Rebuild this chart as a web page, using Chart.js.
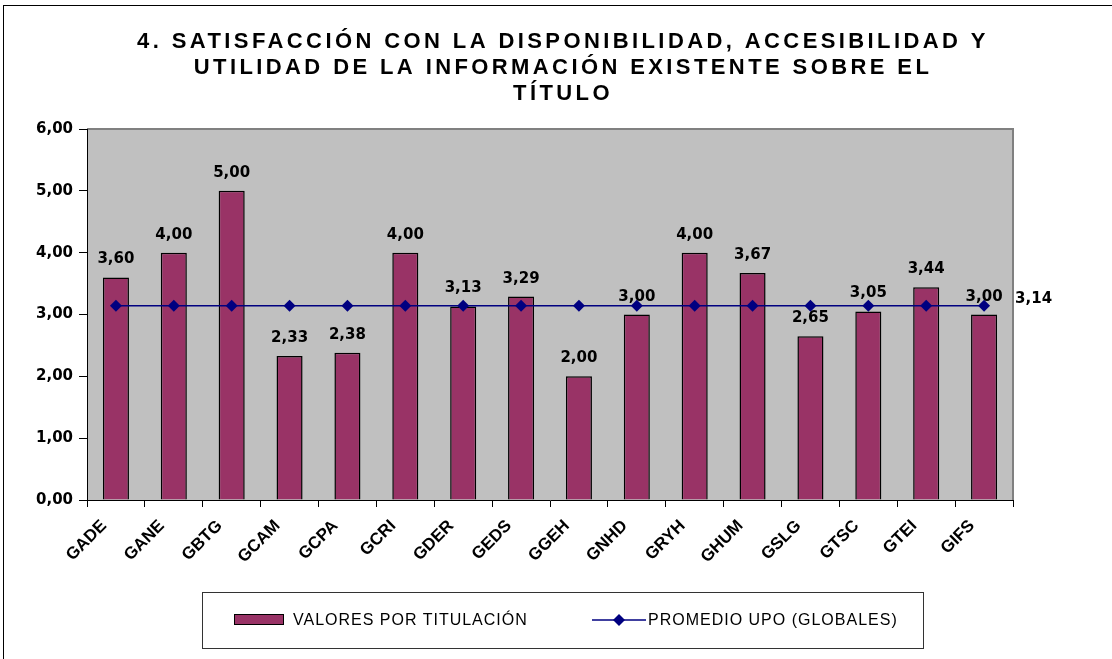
<!DOCTYPE html>
<html>
<head>
<meta charset="utf-8">
<script src="https://cdn.jsdelivr.net/npm/chart.js@4/dist/chart.umd.min.js"></script>
<style>
  body { margin: 0; background: #fff; }
  #wrap { position: relative; width: 1112px; height: 659px; overflow: hidden; }
  #frame { position: absolute; left: 3px; top: 5px; right: -5px; bottom: -5px; border-top: 1px solid #000; border-left: 1px solid #000; pointer-events: none; }
  #legend { position: absolute; left: 202px; top: 592px; width: 720px; height: 55px; border: 1px solid #333; font: 16px "Liberation Sans", Arial, sans-serif; letter-spacing: 1px; color: #000; }
  #legend .sw { position: absolute; left: 31px; top: 21px; width: 48px; height: 9px; background: #993366; border: 1px solid #000; }
  #legend .t1 { position: absolute; left: 90px; top: 18px; }
  #legend svg { position: absolute; left: 389px; top: 20px; }
  #legend .t2 { position: absolute; left: 445px; top: 18px; }
</style>
</head>
<body>
<div id="wrap">
  <canvas id="satisfChart" width="1112" height="659"></canvas>
  <div id="frame"></div>
  <div id="legend">
    <span class="sw"></span><span class="t1">VALORES POR TITULACIÓN</span>
    <svg width="54" height="14"><line x1="0" y1="7" x2="54" y2="7" stroke="#000080" stroke-width="1.5"/><polygon points="27,1 33,7 27,13 21,7" fill="#000080"/></svg>
    <span class="t2">PROMEDIO UPO (GLOBALES)</span>
  </div>
</div>
<script>
const titleLines = [
  "4. SATISFACCIÓN CON LA DISPONIBILIDAD, ACCESIBILIDAD Y",
  "UTILIDAD DE LA INFORMACIÓN EXISTENTE SOBRE EL",
  "TÍTULO"
];
const categories = ["GADE", "GANE", "GBTG", "GCAM", "GCPA", "GCRI", "GDER", "GEDS",
  "GGEH", "GNHD", "GRYH", "GHUM", "GSLG", "GTSC", "GTEI", "GIFS"];
const valores = [3.60, 4.00, 5.00, 2.33, 2.38, 4.00, 3.13, 3.29,
  2.00, 3.00, 4.00, 3.67, 2.65, 3.05, 3.44, 3.00];
const promedio = [3.14, 3.14, 3.14, 3.14, 3.14, 3.14, 3.14, 3.14,
  3.14, 3.14, 3.14, 3.14, 3.14, 3.14, 3.14, 3.14];
const yMin = 0, yMax = 6, yStep = 1;

const fmt = (v) => Number(v).toFixed(2).replace(".", ",");

// grey plot area + title
const backdrop = {
  id: "backdrop",
  beforeDraw(chart) {
    const { ctx, chartArea: a } = chart;
    ctx.save();
    ctx.fillStyle = "#c0c0c0";
    ctx.fillRect(a.left, a.top, a.right - a.left, a.bottom - a.top);
    ctx.strokeStyle = "#808080";
    ctx.lineWidth = 2;
    ctx.beginPath();
    ctx.moveTo(a.left, a.top);
    ctx.lineTo(a.right, a.top);
    ctx.lineTo(a.right, a.bottom);
    ctx.stroke();

    ctx.fillStyle = "#000";
    ctx.font = 'bold 22px "Liberation Sans", Arial, sans-serif';
    ctx.letterSpacing = "3.4px";
    ctx.textAlign = "center";
    ctx.textBaseline = "alphabetic";
    titleLines.forEach((line, i) => ctx.fillText(line, 563, 48 + i * 26));
    ctx.restore();
  }
};

// value labels above bars and at the end of the line
const valueLabels = {
  id: "valueLabels",
  afterDatasetsDraw(chart) {
    const { ctx } = chart;
    ctx.save();
    ctx.fillStyle = "#000";
    ctx.font = 'bold 15px "DejaVu Sans", Verdana, sans-serif';
    const bars = chart.getDatasetMeta(0).data;
    ctx.textAlign = "center";
    ctx.textBaseline = "alphabetic";
    bars.forEach((el, i) => ctx.fillText(fmt(valores[i]), el.x, el.y - 14));
    const pts = chart.getDatasetMeta(1).data;
    const last = pts[pts.length - 1];
    ctx.textAlign = "left";
    ctx.textBaseline = "middle";
    ctx.fillText(fmt(promedio[promedio.length - 1]), last.x + 31, last.y - 7);
    ctx.restore();
  }
};

new Chart(document.getElementById("satisfChart"), {
  type: "bar",
  data: {
    labels: categories,
    datasets: [
      {
        label: "VALORES POR TITULACIÓN",
        data: valores,
        backgroundColor: "#993366",
        borderColor: "#000",
        borderWidth: 1.5,
        barPercentage: 0.45,
        categoryPercentage: 1,
        order: 1
      },
      {
        type: "line",
        label: "PROMEDIO UPO (GLOBALES)",
        data: promedio,
        borderColor: "#000080",
        borderWidth: 1.5,
        pointStyle: "rectRot",
        pointRadius: 6,
        pointBackgroundColor: "#000080",
        pointBorderWidth: 0,
        fill: false,
        order: 0
      }
    ]
  },
  options: {
    responsive: false,
    animation: false,
    layout: { padding: { left: 10, right: 99, top: 129, bottom: 0 } },
    plugins: {
      legend: { display: false },
      tooltip: { enabled: false }
    },
    scales: {
      x: {
        offset: true,
        grid: { offset: true, drawOnChartArea: false, tickLength: 7, color: "#000" },
        border: { color: "#000", width: 1 },
        ticks: {
          autoSkip: false,
          minRotation: 45,
          maxRotation: 45,
          labelOffset: -12,
          padding: 9,
          color: "#000",
          font: { family: '"Liberation Sans", Arial, sans-serif', size: 17, weight: "bold" }
        },
        afterFit(scale) { scale.height = 159; }
      },
      y: {
        min: yMin,
        max: yMax,
        grid: { drawOnChartArea: false, tickLength: 8, color: "#000" },
        border: { color: "#000", width: 1 },
        ticks: {
          stepSize: yStep,
          padding: 6,
          color: "#000",
          font: { family: '"DejaVu Sans", Verdana, sans-serif', size: 15, weight: "bold" },
          callback: (v) => fmt(v)
        },
        afterFit(scale) { scale.width = 77; }
      }
    }
  },
  plugins: [backdrop, valueLabels]
});
</script>
</body>
</html>
